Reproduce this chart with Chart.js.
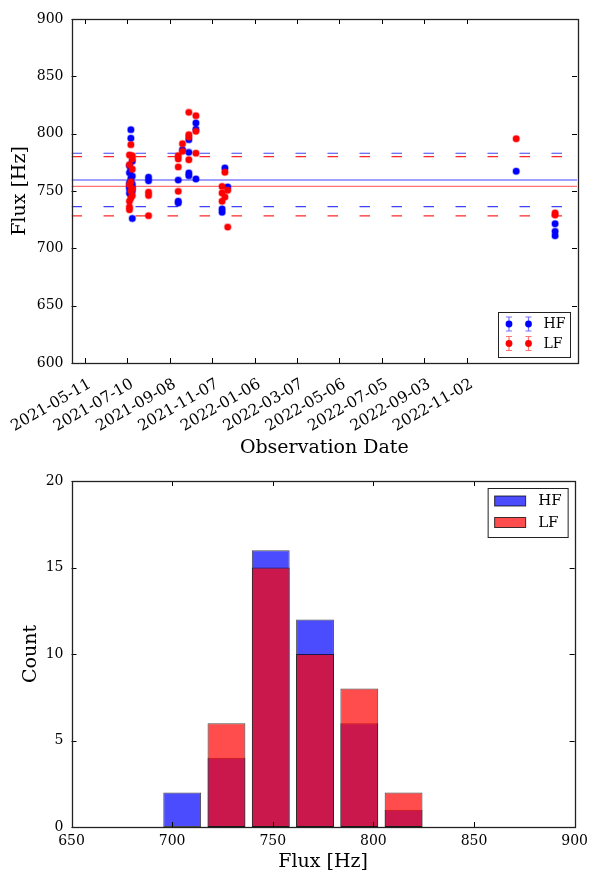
<!DOCTYPE html>
<html>
<head>
<meta charset="utf-8">
<title>HF / LF flux</title>
<script src="https://cdn.jsdelivr.net/npm/chart.js@4.4.1/dist/chart.umd.min.js"></script>
<style>
  html, body { margin: 0; padding: 0; background: #ffffff; }
  #page { position: relative; width: 594px; height: 876px; overflow: hidden; }
  #timeBox { position: absolute; left: 0; top: 0; width: 594px; height: 460px; }
  #histBox { position: absolute; left: 0; top: 460px; width: 594px; height: 416px; }
</style>
</head>
<body>
<div id="page">
  <div id="timeBox"><canvas id="fluxTime" width="594" height="460"></canvas></div>
  <div id="histBox"><canvas id="fluxHist" width="594" height="416"></canvas></div>
</div>
<script>
// ---- observations ----
const hfDates = [
  '2021-07-15','2021-07-15','2021-07-17','2021-07-13','2021-07-15','2021-07-13','2021-07-17',
  '2021-07-15','2021-07-15','2021-07-13','2021-07-17','2021-07-15','2021-07-13','2021-07-17',
  '2021-07-13','2021-07-15','2021-07-17','2021-07-13','2021-07-15','2021-07-17',
  '2021-08-09','2021-08-09',
  '2021-09-20','2021-09-20','2021-09-20','2021-09-26',
  '2021-10-05','2021-10-05','2021-10-05','2021-10-05',
  '2021-10-15','2021-10-15','2021-10-15',
  '2021-11-25','2021-11-29','2021-11-21','2021-11-21',
  '2023-01-11',
  '2023-03-07','2023-03-07','2023-03-07'
];
const hfFlux = [
  803.5, 796, 776, 772, 769, 766, 763,
  761, 758, 757, 756, 755, 754, 753,
  752, 751, 750, 748, 747, 726,
  762, 759,
  759.5, 741, 739.5, 786,
  794.8, 783.7, 765.7, 763.4,
  809.3, 803.8, 760.5,
  770, 753.5, 734.3, 731.4,
  767.2,
  721.5, 714.8, 711
];
const lfDates = [
  '2021-07-15','2021-07-13','2021-07-17','2021-07-17','2021-07-13','2021-07-17','2021-07-15',
  '2021-07-13','2021-07-17','2021-07-15','2021-07-17','2021-07-15','2021-07-13','2021-07-13','2021-07-13',
  '2021-08-09','2021-08-09','2021-08-09',
  '2021-09-20','2021-09-20','2021-09-20','2021-09-20',
  '2021-09-26','2021-09-26',
  '2021-10-05','2021-10-05','2021-10-05','2021-10-05',
  '2021-10-15','2021-10-15','2021-10-15',
  '2021-11-25','2021-11-25','2021-11-21','2021-11-21','2021-11-21','2021-11-29','2021-11-29',
  '2023-01-11',
  '2023-03-07','2023-03-07'
];
const lfFlux = [
  790.4, 781.5, 780.8, 778, 773, 769, 758,
  755.5, 752, 750, 746, 744, 741, 736, 733.7,
  749, 746, 728.5,
  780.8, 778, 771, 749.7,
  791.3, 784.6,
  818.6, 799, 797, 777.3,
  815.7, 802, 783,
  766.3, 744.8, 754, 748.3, 741, 750.6, 718.5,
  795.6,
  730.8, 729
];

// mean, mean + sd, mean - sd
const hfLevels = [759.6, 782.9, 736.4];
const lfLevels = [754.0, 780.0, 728.3];

// date axis
const dateTicks = ['2021-05-11','2021-07-10','2021-09-08','2021-11-07','2022-01-06',
                   '2022-03-07','2022-05-06','2022-07-05','2022-09-03','2022-11-02'];
const dateRange = ['2021-04-22','2023-04-07'];

// histogram of flux
const binEdges = [694, 716, 738, 760, 782, 804, 826];
const hfCounts = [2, 4, 16, 12, 6, 1];
const lfCounts = [0, 6, 15, 10, 8, 2];

// ---- helpers ----
const SERIF = "'DejaVu Serif', 'Liberation Serif', serif";
const dayOf = s => Date.UTC(+s.slice(0, 4), +s.slice(5, 7) - 1, +s.slice(8, 10)) / 864e5;
const tickName = new Map(dateTicks.map(d => [dayOf(d), d]));
const xMin = dayOf(dateRange[0]);
const xMax = dayOf(dateRange[1]);
const points = (dates, vals) => dates.map((d, i) => ({ x: dayOf(d), y: vals[i] }));
const level = v => [{ x: xMin, y: v }, { x: xMax, y: v }];

Chart.defaults.font.family = SERIF;
Chart.defaults.color = '#000000';
Chart.defaults.animation = false;

// box frame with inward tick marks on every side
const frameTicks = {
  id: 'frameTicks',
  afterDraw(chart) {
    const { ctx, chartArea: a, scales } = chart;
    const L = 5;
    const seg = (x1, y1, x2, y2) => { ctx.beginPath(); ctx.moveTo(x1, y1); ctx.lineTo(x2, y2); ctx.stroke(); };
    ctx.save();
    ctx.strokeStyle = '#000000';
    ctx.lineWidth = 1;
    scales.x.ticks.forEach(t => {
      const px = Math.round(scales.x.getPixelForValue(t.value)) + 0.5;
      seg(px, a.bottom, px, a.bottom - L);
      seg(px, a.top, px, a.top + L);
    });
    scales.y.ticks.forEach(t => {
      const py = Math.round(scales.y.getPixelForValue(t.value)) + 0.5;
      seg(a.left, py, a.left + L, py);
      seg(a.right, py, a.right - L, py);
    });
    ctx.lineWidth = 1.3;
    ctx.strokeStyle = '#222222';
    ctx.strokeRect(Math.round(a.left) + 0.5, Math.round(a.top) + 0.5,
                   Math.round(a.width), Math.round(a.height));
    ctx.restore();
  }
};

// legend with error-bar markers (two per entry)
const markerLegend = {
  id: 'markerLegend',
  afterDraw(chart) {
    const { ctx, chartArea: a } = chart;
    const right = a.right - 6.5, bottom = a.bottom - 5.5;
    const w = 72, h = 45;
    const left = right - w, top = bottom - h;
    ctx.save();
    ctx.fillStyle = '#ffffff';
    ctx.fillRect(left, top, w, h);
    ctx.strokeStyle = '#222222';
    ctx.lineWidth = 1;
    ctx.strokeRect(left, top, w, h);
    const rows = [
      { text: 'HF', color: '#0000ff', bar: 'rgba(0,0,255,0.55)', y: top + 11.5 },
      { text: 'LF', color: '#ff0000', bar: 'rgba(255,0,0,0.55)', y: top + 31 }
    ];
    rows.forEach(r => {
      [left + 10.5, left + 30].forEach(mx => {
        ctx.strokeStyle = r.bar;
        ctx.lineWidth = 1.2;
        ctx.beginPath();
        ctx.moveTo(mx, r.y - 7); ctx.lineTo(mx, r.y + 7);
        ctx.moveTo(mx - 3, r.y - 7); ctx.lineTo(mx + 3, r.y - 7);
        ctx.moveTo(mx - 3, r.y + 7); ctx.lineTo(mx + 3, r.y + 7);
        ctx.stroke();
        ctx.fillStyle = r.color;
        ctx.beginPath();
        ctx.arc(mx, r.y, 3.4, 0, Math.PI * 2);
        ctx.fill();
      });
      ctx.fillStyle = '#000000';
      ctx.font = '14px ' + SERIF;
      ctx.textBaseline = 'middle';
      ctx.textAlign = 'left';
      ctx.fillText(r.text, left + 45, r.y + 0.5);
    });
    ctx.restore();
  }
};

// legend with filled patches
const patchLegend = {
  id: 'patchLegend',
  afterDraw(chart) {
    const { ctx, chartArea: a } = chart;
    const right = a.right - 6.5, top = a.top + 7.5;
    const w = 80, h = 49;
    const left = right - w;
    ctx.save();
    ctx.fillStyle = '#ffffff';
    ctx.fillRect(left, top, w, h);
    ctx.strokeStyle = '#222222';
    ctx.lineWidth = 1;
    ctx.strokeRect(left, top, w, h);
    const rows = [
      { text: 'HF', fill: 'rgba(0,0,255,0.7)', y: top + 7.5 },
      { text: 'LF', fill: 'rgba(255,0,0,0.7)', y: top + 29 }
    ];
    rows.forEach(r => {
      ctx.fillStyle = r.fill;
      ctx.fillRect(left + 6.5, r.y, 31, 10);
      ctx.strokeStyle = 'rgba(0,0,0,0.75)';
      ctx.strokeRect(left + 6.5, r.y, 31, 10);
      ctx.fillStyle = '#000000';
      ctx.font = '15px ' + SERIF;
      ctx.textBaseline = 'middle';
      ctx.textAlign = 'left';
      ctx.fillText(r.text, left + 50, r.y + 5.5);
    });
    ctx.restore();
  }
};

const tickFont = { family: SERIF, size: 14 };
const dateFont = { family: SERIF, size: 15.5 };
const titleFont = { family: SERIF, size: 19 };

// ---- flux against observation date ----
new Chart(document.getElementById('fluxTime'), {
  type: 'scatter',
  data: {
    datasets: [
      { label: 'LF', data: points(lfDates, lfFlux), order: 0,
        pointRadius: 3.2, pointBackgroundColor: '#ff0000',
        pointBorderColor: 'rgba(255,0,0,0.35)', pointBorderWidth: 1.6 },
      { label: 'HF', data: points(hfDates, hfFlux), order: 1,
        pointRadius: 3.2, pointBackgroundColor: '#0000ff',
        pointBorderColor: 'rgba(0,0,255,0.35)', pointBorderWidth: 1.6 },
      { label: 'HF mean', data: level(hfLevels[0]), showLine: true, order: 2,
        borderColor: 'rgba(0,0,255,0.75)', borderWidth: 1.2, pointRadius: 0 },
      { label: 'HF +sd', data: level(hfLevels[1]), showLine: true, order: 2,
        borderColor: 'rgba(0,0,255,0.75)', borderWidth: 1.2, pointRadius: 0, borderDash: [10.5, 21.5] },
      { label: 'HF -sd', data: level(hfLevels[2]), showLine: true, order: 2,
        borderColor: 'rgba(0,0,255,0.75)', borderWidth: 1.2, pointRadius: 0, borderDash: [10.5, 21.5] },
      { label: 'LF mean', data: level(lfLevels[0]), showLine: true, order: 3,
        borderColor: 'rgba(255,0,0,0.55)', borderWidth: 1.2, pointRadius: 0 },
      { label: 'LF +sd', data: level(lfLevels[1]), showLine: true, order: 3,
        borderColor: 'rgba(255,0,0,0.85)', borderWidth: 1.2, pointRadius: 0, borderDash: [10.5, 21.5] },
      { label: 'LF -sd', data: level(lfLevels[2]), showLine: true, order: 3,
        borderColor: 'rgba(255,0,0,0.85)', borderWidth: 1.2, pointRadius: 0, borderDash: [10.5, 21.5] }
    ]
  },
  options: {
    responsive: false,
    layout: { padding: { left: 0, right: 17, top: 19, bottom: 0 } },
    plugins: { legend: { display: false }, tooltip: { enabled: false } },
    scales: {
      x: {
        type: 'linear', min: xMin, max: xMax,
        grid: { display: false, drawTicks: false }, border: { display: false },
        afterBuildTicks: s => { s.ticks = dateTicks.map(d => ({ value: dayOf(d) })); },
        afterFit: s => { s.height = 97; s.paddingLeft = 0; s.paddingRight = 0; },
        ticks: {
          autoSkip: false, minRotation: 30, maxRotation: 30,
          font: dateFont, color: '#000', padding: 12, labelOffset: 5,
          callback: v => tickName.get(v) || ''
        },
        title: { display: true, text: 'Observation Date', font: titleFont, color: '#000',
                 padding: { top: 0, bottom: 1 } }
      },
      y: {
        min: 600, max: 900,
        grid: { display: false, drawTicks: false }, border: { display: false },
        afterFit: s => { s.width = 71.5; },
        ticks: { stepSize: 50, font: tickFont, color: '#000', padding: 8 },
        title: { display: true, text: 'Flux [Hz]', font: titleFont, color: '#000',
                 padding: { top: 9, bottom: 0 } }
      }
    }
  },
  plugins: [frameTicks, markerLegend]
});

// ---- flux histogram ----
const binCenters = binEdges.slice(0, -1).map((e, i) => (e + binEdges[i + 1]) / 2);
new Chart(document.getElementById('fluxHist'), {
  type: 'bar',
  data: {
    datasets: [
      { label: 'LF', data: binCenters.map((c, i) => ({ x: c, y: lfCounts[i] })), order: 0,
        backgroundColor: 'rgba(255,0,0,0.7)', borderColor: 'rgba(0,0,0,0.7)', borderWidth: 1,
        borderSkipped: false, grouped: false, categoryPercentage: 1, barPercentage: 0.855 },
      { label: 'HF', data: binCenters.map((c, i) => ({ x: c, y: hfCounts[i] })), order: 1,
        backgroundColor: 'rgba(0,0,255,0.7)', borderColor: 'rgba(0,0,0,0.7)', borderWidth: 1,
        borderSkipped: false, grouped: false, categoryPercentage: 1, barPercentage: 0.855 }
    ]
  },
  options: {
    responsive: false,
    layout: { padding: { left: 0, right: 16.5, top: 21, bottom: 0 } },
    plugins: { legend: { display: false }, tooltip: { enabled: false } },
    scales: {
      x: {
        type: 'linear', min: 650, max: 900, offset: false,
        grid: { display: false, drawTicks: false }, border: { display: false },
        afterFit: s => { s.height = 49; },
        ticks: { stepSize: 50, font: tickFont, color: '#000', padding: 6, maxRotation: 0 },
        title: { display: true, text: 'Flux [Hz]', font: titleFont, color: '#000',
                 padding: { top: 0, bottom: 3 } }
      },
      y: {
        min: 0, max: 20,
        grid: { display: false, drawTicks: false }, border: { display: false },
        afterFit: s => { s.width = 71.5; },
        ticks: { stepSize: 5, font: tickFont, color: '#000', padding: 8 },
        title: { display: true, text: 'Count', font: titleFont, color: '#000',
                 padding: { top: 20, bottom: 0 } }
      }
    }
  },
  plugins: [frameTicks, patchLegend]
});
</script>
</body>
</html>
